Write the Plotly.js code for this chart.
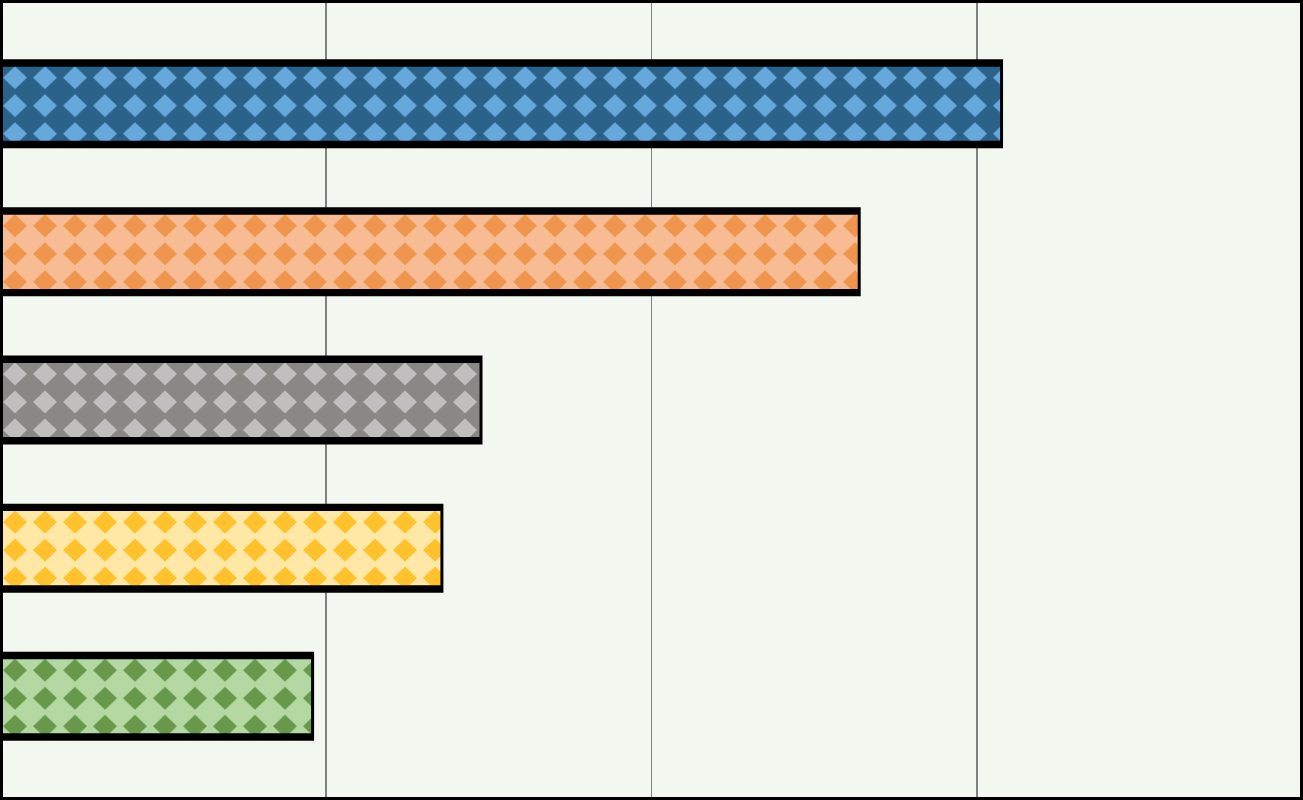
<!DOCTYPE html>
<html>
<head>
<meta charset="utf-8">
<script src="https://cdn.plot.ly/plotly-3.0.1.min.js"></script>
<style>
  html, body { margin: 0; padding: 0; background: #f2f7f0; }
  #chart { width: 1303px; height: 800px; }
</style>
</head>
<body>
<div id="chart"></div>
<script>
// ---- data ----
var categories = ['Item 1', 'Item 2', 'Item 3', 'Item 4', 'Item 5'];
var values = [30.7, 26.33, 14.72, 13.52, 9.55];
var tickValues = [0, 10, 20, 30, 40];

// ---- styles ----
var bgColors = ['#2b6289', '#f7bc94', '#8a8787', '#ffe8a6', '#b4d8a2'];
var fgColors = ['#66a8dc', '#f0954e', '#c0bebe', '#ffc12c', '#68984a'];

var outline = {
  type: 'bar', orientation: 'h',
  y: categories, x: values,
  width: 0.56,
  marker: { color: '#000000', line: { color: '#000000', width: 6 } },
  hoverinfo: 'skip', showlegend: false
};
var fill = {
  type: 'bar', orientation: 'h',
  y: categories, x: values,
  width: 0.5,
  marker: {
    color: bgColors,
    line: { width: 0 },
    pattern: { shape: '.', size: 30, solidity: 0.4, fillmode: 'overlay',
               bgcolor: bgColors, fgcolor: fgColors }
  },
  hoverinfo: 'skip', showlegend: false
};

var layout = {
  width: 1303, height: 800,
  margin: { l: 0, r: 0, t: 0, b: 0, pad: 0 },
  paper_bgcolor: '#f2f7f0', plot_bgcolor: '#f2f7f0',
  barmode: 'overlay',
  showlegend: false,
  xaxis: {
    range: [0, 40], tickvals: tickValues, showticklabels: false, ticks: '',
    showgrid: true, gridcolor: '#808080', gridwidth: 1.6, zeroline: false, showline: false
  },
  yaxis: {
    type: 'category', categoryorder: 'array', categoryarray: categories,
    range: [4.7, -0.7], showticklabels: false, ticks: '', showgrid: false, zeroline: false
  },
  shapes: [{
    type: 'rect', xref: 'paper', yref: 'paper', x0: 0, x1: 1, y0: 0, y1: 1,
    line: { color: '#000000', width: 6 }, fillcolor: 'rgba(0,0,0,0)', layer: 'above'
  }]
};

var gd = document.getElementById('chart');
Plotly.newPlot(gd, [outline, fill], layout, { staticPlot: true, displayModeBar: false }).then(function () {
  // turn the dot pattern tiles into diamond tiles aligned to each bar
  var NS = 'http://www.w3.org/2000/svg';
  var TW = 30, TH = 28, HW = 12, HH = 11.5;
  var traces = gd.querySelectorAll('.trace.bars');
  var patTrace = traces[traces.length - 1];
  var paths = patTrace.querySelectorAll('.point path');
  paths.forEach(function (p, k) {
    var idx = (p.__data__ && typeof p.__data__.i === 'number') ? p.__data__.i : k;
    var f = p.style.fill || p.getAttribute('fill') || '';
    var m = f.match(/#([^'")\s]+)/);
    if (!m) return;
    var pat = document.getElementById(m[1]);
    if (!pat) return;
    var bb = p.getBBox();
    pat.setAttribute('width', TW);
    pat.setAttribute('height', TH);
    pat.setAttribute('x', 0);
    pat.setAttribute('y', bb.y + 11 - TH / 2);
    while (pat.firstChild) pat.removeChild(pat.firstChild);
    var r = document.createElementNS(NS, 'rect');
    r.setAttribute('x', 0); r.setAttribute('y', 0);
    r.setAttribute('width', TW); r.setAttribute('height', TH);
    r.setAttribute('fill', bgColors[idx]);
    pat.appendChild(r);
    var cx = TW / 2, cy = TH / 2;
    var dp = document.createElementNS(NS, 'path');
    dp.setAttribute('d', 'M' + cx + ',' + (cy - HH) + 'L' + (cx + HW) + ',' + cy +
      'L' + cx + ',' + (cy + HH) + 'L' + (cx - HW) + ',' + cy + 'Z');
    dp.setAttribute('fill', fgColors[idx]);
    pat.appendChild(dp);
  });
});
</script>
</body>
</html>
